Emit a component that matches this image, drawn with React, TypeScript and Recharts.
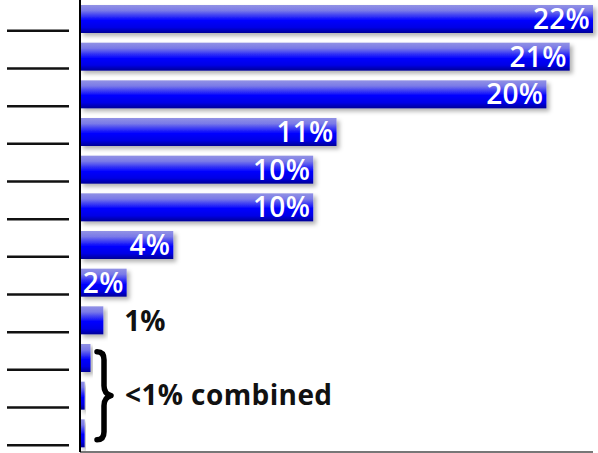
import { BarChart, Bar, XAxis, YAxis, LabelList } from "recharts";

// category labels are blanked out in the original (drawn as underlines)
const categories = ["c1", "c2", "c3", "c4", "c5", "c6", "c7", "c8", "c9", "c10", "c11", "c12"];
const shares = [22, 21, 20, 11, 10, 10, 4, 2, 1, 0.45, 0.2, 0.2];
const labels = ["22%", "21%", "20%", "11%", "10%", "10%", "4%", "2%", "1%", "", "", ""];
const combinedNote = "<1% combined";

const data = categories.map((c, i) => ({ cat: c, share: shares[i], label: labels[i] }));

const FONT = "'Open Sans', 'DejaVu Sans', sans-serif";

function BlankTick({ x, y }: { x?: number; y?: number }) {
  if (x == null || y == null) return null;
  return <line x1={7} x2={69} y1={y + 12} y2={y + 12} stroke="#111" strokeWidth={2.5} />;
}

function BarShape(props: any) {
  const { x, y, width, height } = props;
  if (width <= 0) return null;
  return (
    <rect x={x} y={y} width={width} height={height}
      fill="url(#barGrad)" filter="url(#barShadow)" />
  );
}

function ShareLabel(props: any) {
  const { x, y, width, height, value, index } = props;
  if (!value && index !== 10) return null;
  const cy = y + height / 2;
  if (index === 10) {
    // brace + note spanning the three smallest bars
    const bx = 104;
    return (
      <g>
        <path
          d={`M ${bx - 7} ${cy - 44} Q ${bx} ${cy - 44} ${bx} ${cy - 36} L ${bx} ${cy - 10}
              Q ${bx} ${cy - 2} ${bx + 7} ${cy} Q ${bx} ${cy + 2} ${bx} ${cy + 10}
              L ${bx} ${cy + 36} Q ${bx} ${cy + 44} ${bx - 7} ${cy + 44}`}
          fill="none" stroke="#000" strokeWidth={5.5} strokeLinecap="round" strokeLinejoin="round"
        />
        <text x={125} y={cy + 9} fontFamily={FONT} fontWeight={700} fontSize={28}
          letterSpacing={0.4} fill="#111">
          {combinedNote}
        </text>
      </g>
    );
  }
  if (width < 40) {
    return (
      <text x={x + width + 21} y={cy + 11} fontFamily={FONT} fontWeight={700} fontSize={28} fill="#111">
        {value}
      </text>
    );
  }
  return (
    <text x={x + width - 3} y={cy + 10} textAnchor="end" fontFamily={FONT}
      fontWeight={600} fontSize={28} letterSpacing={0.3} fill="#fff">
      {value}
    </text>
  );
}

export default function App() {
  return (
    <div style={{ position: "absolute", left: 0, top: 0, background: "#fff" }}>
      <BarChart
        width={598} height={453} data={data} layout="vertical"
        margin={{ top: 0, right: 5, left: 0, bottom: 0 }}
        barCategoryGap={0}
      >
        <defs>
          <linearGradient id="barGrad" x1="0" y1="0" x2="0" y2="1">
            <stop offset="0%" stopColor="#9292e4" />
            <stop offset="20%" stopColor="#7a7ae8" />
            <stop offset="55%" stopColor="#0000ff" />
            <stop offset="80%" stopColor="#0000e6" />
            <stop offset="100%" stopColor="#000096" />
          </linearGradient>
          <filter id="barShadow" x="-10%" y="-20%" width="130%" height="160%">
            <feDropShadow dx={3} dy={3} stdDeviation={2} floodColor="#000" floodOpacity={0.3} />
          </filter>
        </defs>
        <XAxis
          type="number" domain={[0, 22]} height={1}
          tick={false} tickLine={false}
          axisLine={{ stroke: "#777", strokeWidth: 2 }}
        />
        <YAxis
          type="category" dataKey="cat" width={80}
          tick={<BlankTick />} tickLine={false}
          axisLine={{ stroke: "#000", strokeWidth: 2 }}
        />
        <Bar dataKey="share" barSize={28} shape={<BarShape />} isAnimationActive={false}>
          <LabelList dataKey="label" content={<ShareLabel />} />
        </Bar>
      </BarChart>
    </div>
  );
}
